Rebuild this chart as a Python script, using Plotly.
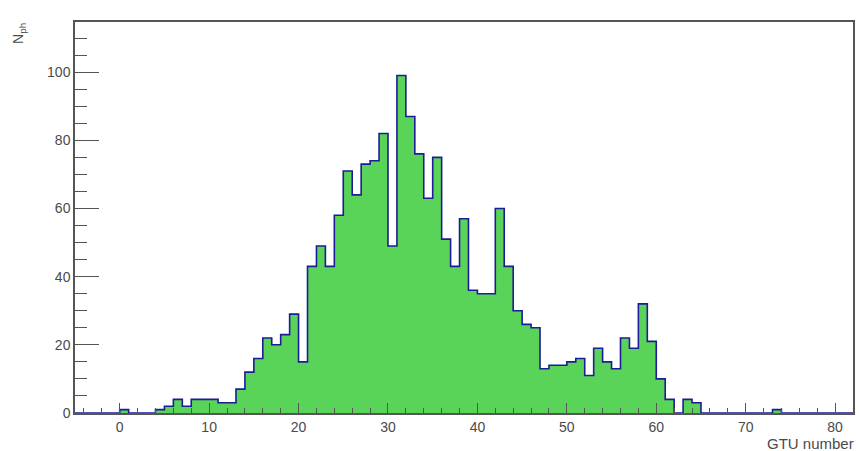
import plotly.graph_objects as go

# Histogram: number of photons per GTU, unit-width bins starting at -5
bin_low = list(range(-5, 82))
counts = [
    0, 0, 0, 0, 0,          # -5 .. -1
    1, 0, 0, 0, 1,          # 0 .. 4
    2, 4, 2, 4, 4,          # 5 .. 9
    4, 3, 3, 7, 12,         # 10 .. 14
    16, 22, 20, 23, 29,     # 15 .. 19
    15, 43, 49, 43, 58,     # 20 .. 24
    71, 64, 73, 74, 82,     # 25 .. 29
    49, 99, 87, 76, 63,     # 30 .. 34
    75, 51, 43, 57, 36,     # 35 .. 39
    35, 35, 60, 43, 30,     # 40 .. 44
    26, 25, 13, 14, 14,     # 45 .. 49
    15, 16, 11, 19, 15,     # 50 .. 54
    13, 22, 19, 32, 21,     # 55 .. 59
    10, 4, 0, 4, 3,         # 60 .. 64
    0, 0, 0, 0, 0,          # 65 .. 69
    0, 0, 0, 1, 0,          # 70 .. 74
    0, 0, 0, 0, 0,          # 75 .. 79
    0, 0,                   # 80 .. 81
]
x_title = "GTU number"
y_title = "N<sub>ph</sub>"

# step outline: edges plus closing edge, last value repeated
edges = bin_low + [bin_low[-1] + 1]
steps = counts + [counts[-1]]

FONT = "Liberation Sans, Arial, sans-serif"
TXT = "#4a4a4a"
FRAME = "#555555"

fig = go.Figure()
fig.add_trace(go.Scatter(
    x=edges, y=steps,
    mode="lines",
    line=dict(shape="hv", color="#1c1c96", width=1.6),
    fill="tozeroy",
    fillcolor="#59d459",
    hoverinfo="skip",
))

fig.update_layout(
    width=859, height=451,
    margin=dict(l=75, r=4, t=22, b=38),
    paper_bgcolor="white",
    plot_bgcolor="white",
    showlegend=False,
    font=dict(family=FONT, size=14, color=TXT),
)

fig.update_xaxes(
    range=[-5, 82],
    showgrid=False, zeroline=False,
    showline=True, linecolor=FRAME, linewidth=1.5, mirror=True,
    ticks="inside", ticklen=10, tickwidth=1.2, tickcolor=FRAME,
    tick0=0, dtick=10,
    minor=dict(ticks="inside", ticklen=5, dtick=2, tickcolor=FRAME, tickwidth=1),
    tickfont=dict(family=FONT, size=14, color=TXT),
)
fig.update_yaxes(
    range=[0, 114.7],
    showgrid=False, zeroline=False,
    showline=True, linecolor=FRAME, linewidth=1.5, mirror=True,
    ticks="inside", ticklen=24, tickwidth=1.2, tickcolor=FRAME,
    tick0=0, dtick=20,
    minor=dict(ticks="inside", ticklen=12, dtick=5, tickcolor=FRAME, tickwidth=1),
    tickfont=dict(family=FONT, size=14, color=TXT),
)

fig.add_annotation(
    text=x_title, xref="paper", yref="paper",
    x=1.003, y=-0.079, xanchor="right", yanchor="middle",
    showarrow=False, borderpad=0,
    font=dict(family=FONT, size=15, color=TXT),
)
fig.add_annotation(
    text=y_title, xref="paper", yref="paper",
    x=-0.072, y=0.972, xanchor="center", yanchor="middle",
    textangle=-90, showarrow=False,
    font=dict(family=FONT, size=14, color=TXT),
)

fig.write_html("out.html")
